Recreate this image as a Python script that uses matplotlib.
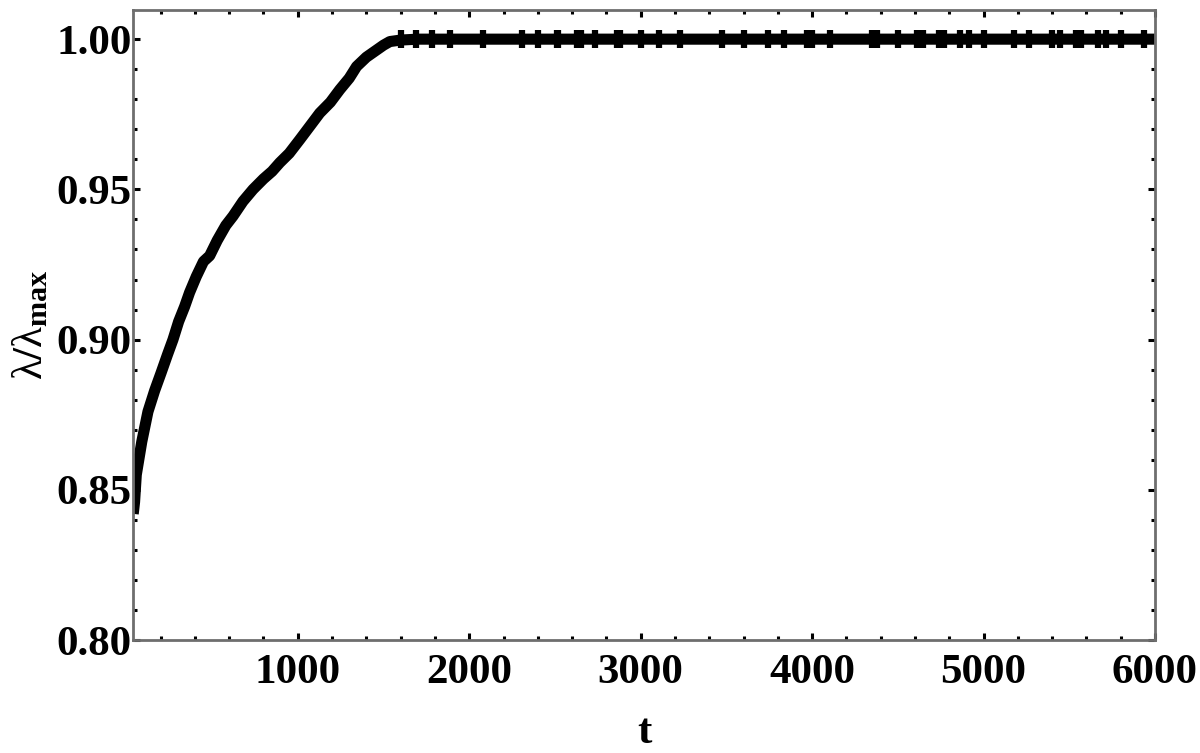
import matplotlib
matplotlib.use("Agg")
import matplotlib.pyplot as plt
import numpy as np
from matplotlib.ticker import MultipleLocator

t_curve = [40, 48, 58, 90, 126, 165, 203, 240, 272, 305, 340, 369, 408, 450, 486, 530, 580, 622,
           680, 739, 800, 850, 895, 950, 1012, 1070, 1128, 1190, 1245, 1300, 1343, 1400, 1460,
           1500, 1537, 1600, 1700, 1800, 2000, 3000, 4000, 5000, 6000]
y_curve = [0.842, 0.846, 0.855, 0.866, 0.876, 0.883, 0.889, 0.895, 0.900, 0.906, 0.911, 0.9157,
           0.921, 0.926, 0.9279, 0.933, 0.938, 0.9411, 0.946, 0.950, 0.9535, 0.956, 0.9589,
           0.962, 0.9666, 0.971, 0.9754, 0.979, 0.9832, 0.987, 0.9909, 0.994, 0.9964, 0.998,
           0.9992, 0.9997, 1.0, 1.0, 1.0, 1.0, 1.0, 1.0, 1.0]

# Noise spikes on the plateau (position, half amplitude)
spike_t = [1600, 1690, 1780, 1890, 2000, 2080, 2200, 2310, 2400, 2510, 2520, 2630, 2650, 2735,
           2860, 2880, 3000, 3105, 3230, 3380, 3475, 3600, 3740, 3835, 3970, 4000, 4105, 4350,
           4380, 4500, 4610, 4645, 4740, 4770, 4865, 4915, 5005, 5040, 5180, 5265, 5315, 5400,
           5445, 5540, 5570, 5665, 5715, 5800, 5935]
spike_a = [0.003, 0.003, 0.003, 0.003, 0.0015, 0.003, 0.0015, 0.003, 0.003, 0.003,
           0.003, 0.003, 0.003, 0.003, 0.003, 0.003, 0.003, 0.003, 0.003, 0.0015,
           0.003, 0.003, 0.003, 0.003, 0.003, 0.003, 0.003, 0.003, 0.003, 0.003,
           0.003, 0.003, 0.003, 0.003, 0.003, 0.003, 0.003, 0.0015, 0.003, 0.003,
           0.0015, 0.003, 0.003, 0.003, 0.003, 0.003, 0.003, 0.003, 0.003]

x_ticks = [1000, 2000, 3000, 4000, 5000, 6000]
y_ticks = [0.80, 0.85, 0.90, 0.95, 1.00]

plt.rcParams['mathtext.fontset'] = 'custom'
plt.rcParams['mathtext.rm'] = 'Liberation Serif:bold'
plt.rcParams['mathtext.it'] = 'Liberation Serif'
plt.rcParams['mathtext.bf'] = 'Liberation Serif:bold'
plt.rcParams['font.family'] = ['Liberation Serif', 'DejaVu Serif']

fig = plt.figure(figsize=(12, 7.53), dpi=100)
ax = fig.add_axes([0.111, 0.150, 0.8515, 0.8367])

ax.plot(t_curve, y_curve, color='black', lw=8, solid_capstyle='butt', solid_joinstyle='round')
ax.vlines(spike_t, np.array(1.0) - np.array(spike_a), np.array(1.0) + np.array(spike_a),
          color='black', lw=4.5)

ax.set_xlim(40, 6000)
ax.set_ylim(0.80, 1.0097)
ax.set_xticks(x_ticks)
ax.set_yticks(y_ticks)
ax.set_xticklabels([str(v) for v in x_ticks])
ax.set_yticklabels([f"{v:.2f}" for v in y_ticks])
ax.xaxis.set_minor_locator(MultipleLocator(200))
ax.yaxis.set_minor_locator(MultipleLocator(0.01))

ax.tick_params(which='both', direction='in', top=True, right=True, color='black', width=2.2)
ax.tick_params(which='major', length=5, pad=10)
ax.tick_params(which='minor', length=3)
ax.tick_params(axis='y', which='major', pad=1)
for lab in ax.get_xticklabels() + ax.get_yticklabels():
    lab.set_fontsize(31)
    lab.set_fontweight('bold')
    lab.set_fontfamily('Liberation Serif')

for sp in ax.spines.values():
    sp.set_color('#6e6e6e')
    sp.set_linewidth(2.0)

ax.set_xlabel('t', fontsize=31, fontweight='bold', labelpad=16)
ax.set_ylabel(r'$\mathit{\lambda}/\mathit{\lambda}_{\mathbf{max}}$', fontsize=31, labelpad=4)

fig.savefig('out.png', dpi=100, facecolor='white')
